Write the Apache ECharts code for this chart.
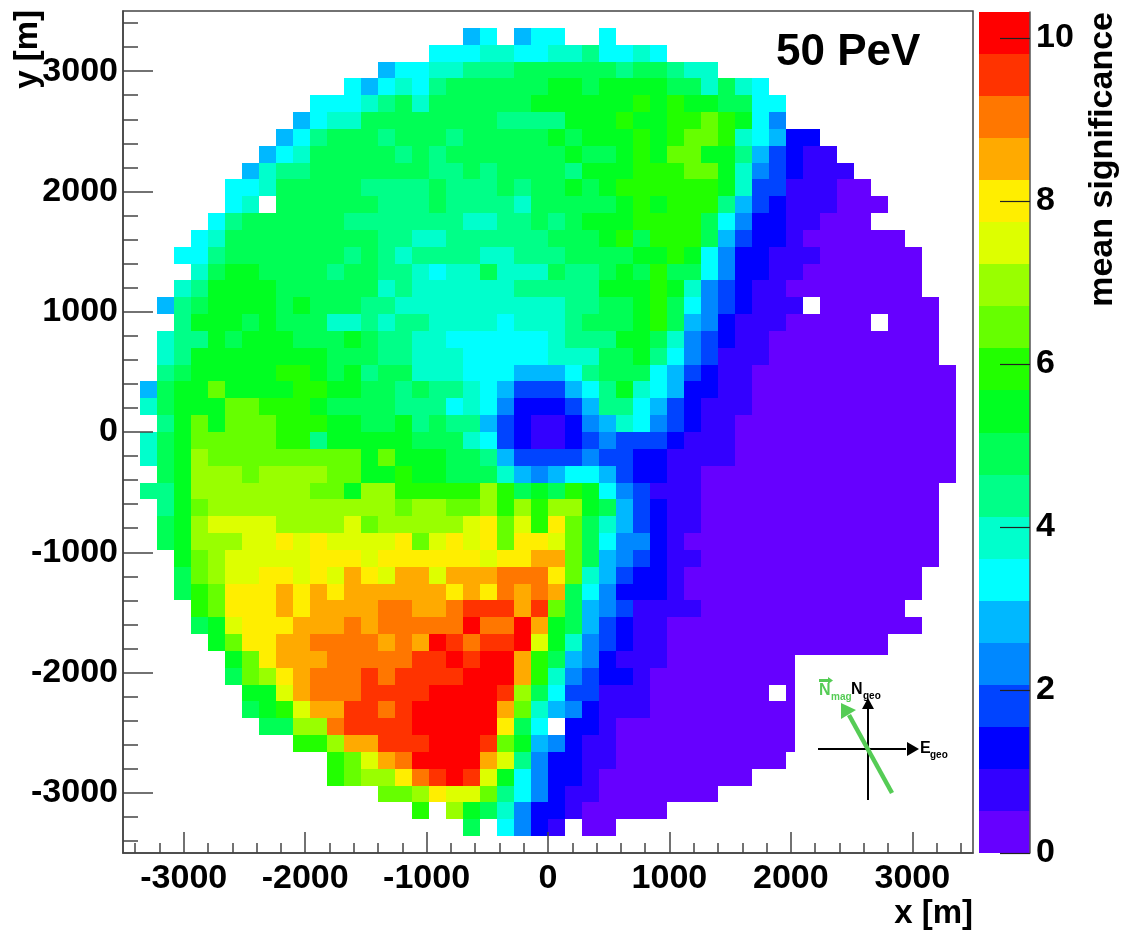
<!DOCTYPE html>
<html><head><meta charset="utf-8">
<style>html,body{margin:0;padding:0;background:#fff}#c{width:1125px;height:932px}</style>
<script src="https://cdn.jsdelivr.net/npm/echarts@6/dist/echarts.min.js"></script>
</head><body><div id="c"></div>
<script>
const _ = null;
// colour band index, per row (top to bottom), from the first filled column
const rowStarts=[20,18,15,13,11,10,9,8,7,6,6,5,4,3,4,3,2,3,2,2,2,1,1,2,1,1,2,1,2,2,2,3,3,3,4,4,5,6,6,7,7,8,10,12,12,15,17,20];
const r01=[5,6,_,5,6,6,_,_,6];
const r02=[6,6,6,7,7,6,6,7,7,8,6,6,7,6];
const r03=[5,6,6,7,7,8,8,8,9,9,9,9,9,9,8,9,9,8,7,7];
const r04=[6,5,6,7,6,8,9,9,9,9,9,9,10,10,9,10,10,10,10,9,9,7,9,7,6];
const r05=[6,6,6,7,8,9,7,9,9,9,9,9,9,10,10,10,10,10,10,11,10,11,10,10,9,9,6,6];
const r06=[5,6,7,7,9,9,9,9,9,9,9,9,8,8,8,8,10,10,10,11,10,10,11,11,12,11,10,6,4];
const r07=[5,6,8,9,9,9,8,9,9,9,8,9,9,9,9,9,10,9,10,10,10,11,10,11,12,12,11,7,6,5,2,2];
const r08=[5,6,7,9,9,9,9,9,8,9,8,9,9,9,9,9,9,9,10,9,9,10,11,10,12,12,10,10,8,5,3,2,1,1];
const r09=[5,7,8,8,9,9,9,9,9,9,9,8,8,9,8,9,9,9,9,8,10,10,10,11,11,11,12,12,10,7,4,3,2,1,1,1];
const r10=[6,6,7,9,9,9,9,9,8,8,8,8,9,8,8,8,9,8,9,9,10,9,10,11,11,11,11,11,11,10,7,3,3,1,1,1,0,0];
const r11=[6,7,_,9,9,9,9,9,9,8,8,8,9,8,8,8,8,7,9,9,9,9,9,10,11,10,11,11,11,8,5,3,2,1,1,1,0,0,0];
const r12=[6,8,9,9,9,9,9,9,8,8,8,8,8,8,8,7,7,8,8,9,8,9,10,10,10,11,11,11,11,9,6,4,2,2,1,1,0,0,0];
const r13=[6,7,9,9,9,9,9,9,9,9,9,8,8,7,7,8,8,8,8,8,8,9,9,9,10,11,9,11,11,11,9,5,3,2,2,1,0,0,0,0,0,0];
const r14=[6,6,8,9,9,9,9,9,9,9,8,9,8,7,8,8,8,8,7,7,8,8,8,9,9,9,9,10,10,11,10,6,4,2,2,1,1,1,0,0,0,0,0,0];
const r15=[7,9,10,10,9,9,9,9,8,9,9,8,8,7,6,7,7,9,7,7,7,9,8,8,9,10,9,11,9,9,6,4,2,2,1,1,0,0,0,0,0,0,0];
const r16=[7,8,10,10,10,10,9,9,9,9,9,9,7,8,7,7,7,7,7,7,8,8,8,8,8,10,10,10,11,10,7,4,3,2,1,1,0,0,0,0,0,0,0,0];
const r17=[5,8,9,10,10,10,10,9,10,9,9,9,8,8,7,7,7,7,7,7,7,7,7,7,8,8,9,9,10,11,9,6,4,3,2,1,1,1,_,0,0,0,0,0,0,0];
const r18=[8,10,10,10,9,10,9,9,9,7,7,8,7,8,8,7,7,7,7,6,7,7,7,8,9,9,9,10,11,9,5,4,2,1,1,1,0,0,0,0,0,_,0,0,0];
const r19=[7,8,8,10,9,10,10,10,9,9,9,10,9,8,8,7,7,6,6,6,6,6,6,7,8,8,8,10,10,9,7,4,3,2,1,1,0,0,0,0,0,0,0,0,0,0];
const r20=[7,8,10,10,10,10,10,10,10,10,9,9,9,8,8,7,7,7,6,6,6,6,6,7,7,7,9,9,10,8,6,4,3,1,1,1,0,0,0,0,0,0,0,0,0,0];
const r21=[8,9,10,10,10,10,10,11,11,10,9,10,8,9,9,7,7,7,6,6,6,5,5,5,6,8,9,9,9,6,5,3,2,1,1,0,0,0,0,0,0,0,0,0,0,0,0];
const r22=[5,9,10,10,12,10,10,10,10,11,11,10,10,9,9,8,9,8,8,7,6,5,3,3,3,5,6,8,10,7,6,5,2,2,1,1,0,0,0,0,0,0,0,0,0,0,0,0];
const r23=[7,9,10,10,10,12,12,11,11,11,10,9,9,9,9,8,8,8,6,7,6,4,2,2,2,3,5,8,8,6,5,3,2,1,1,1,0,0,0,0,0,0,0,0,0,0,0,0];
const r24=[8,10,12,10,12,12,12,11,11,11,10,10,9,9,10,8,9,8,8,5,3,2,1,1,2,4,5,7,6,4,3,2,1,1,0,0,0,0,0,0,0,0,0,0,0,0,0];
const r25=[7,9,10,12,12,12,12,12,11,11,8,10,10,10,10,10,9,9,9,7,6,3,2,1,1,2,3,4,3,3,3,2,1,1,1,0,0,0,0,0,0,0,0,0,0,0,0,0];
const r26=[7,9,10,13,12,12,12,12,12,12,12,12,12,10,12,10,10,10,9,9,8,5,3,3,3,3,4,3,3,2,2,1,1,1,1,0,0,0,0,0,0,0,0,0,0,0,0,0];
const r27=[9,10,13,13,13,12,13,13,13,13,12,12,10,10,11,10,10,9,9,9,7,5,4,5,6,6,5,3,2,2,1,1,0,0,0,0,0,0,0,0,0,0,0,0,0,0,0];
const r28=[8,8,10,13,13,13,13,13,13,13,12,12,10,13,13,11,11,11,11,11,13,11,9,10,9,11,10,6,4,3,1,1,1,0,0,0,0,0,0,0,0,0,0,0,0,0,0];
const r29=[8,10,12,13,13,13,13,13,13,13,13,13,13,13,12,13,13,12,12,13,11,13,11,13,13,10,9,5,3,2,1,1,0,0,0,0,0,0,0,0,0,0,0,0,0,0];
const r30=[9,10,13,14,14,14,14,13,13,13,13,14,12,13,13,13,13,13,14,15,12,14,11,15,12,9,7,5,3,2,1,1,0,0,0,0,0,0,0,0,0,0,0,0,0,0];
const r31=[9,10,13,13,13,14,14,15,14,15,14,14,14,14,15,12,14,15,14,15,12,15,15,14,12,9,6,4,4,2,1,0,0,0,0,0,0,0,0,0,0,0,0,0,0,0];
const r32=[10,12,13,14,14,14,14,14,15,15,15,14,15,15,15,15,15,15,14,15,15,16,16,12,9,5,4,3,2,1,1,0,0,0,0,0,0,0,0,0,0,0,0,0,0];
const r33=[9,12,13,14,14,15,15,14,15,14,16,15,14,16,16,14,16,16,16,17,17,17,15,12,7,5,3,2,2,1,0,0,0,0,0,0,0,0,0,0,0,0,0,0];
const r34=[9,11,12,15,15,15,16,15,16,15,16,16,16,16,16,16,15,16,15,17,16,17,16,9,6,4,2,2,2,1,0,0,0,0,0,0,0,0,0,0,0,0,0,0];
const r35=[11,12,15,15,15,16,15,16,16,16,16,17,17,16,16,17,18,18,18,16,18,12,9,5,4,3,1,1,1,1,0,0,0,0,0,0,0,0,0,0,0,0];
const r36=[9,10,14,15,15,15,16,16,16,17,16,17,17,17,17,17,19,17,17,19,16,10,9,5,3,2,1,1,0,0,0,0,0,0,0,0,0,0,0,0,0,0,0];
const r37=[10,12,15,15,16,16,17,17,17,17,16,17,16,19,18,17,18,18,19,14,10,7,4,3,2,1,1,0,0,0,0,0,0,0,0,0,0,0,0,0];
const r38=[10,12,15,16,16,16,17,17,17,17,17,18,18,19,18,19,19,16,11,9,5,4,2,1,1,1,0,0,0,0,0,0,0,0,0,0,0,0,0];
const r39=[9,12,13,15,16,17,17,17,18,17,18,18,18,18,19,19,19,16,11,7,4,3,2,2,1,0,0,0,0,0,0,0,0,0];
const r40=[10,10,14,16,17,17,17,18,18,18,18,19,19,19,19,18,13,9,6,3,3,1,1,1,0,0,0,0,0,0,0,_,0];
const r41=[9,10,11,14,16,16,18,18,17,18,19,19,19,19,19,16,12,7,5,4,2,1,1,1,0,0,0,0,0,0,0,0,0];
const r42=[9,9,13,13,17,18,18,18,18,19,19,19,19,19,15,9,6,_,2,2,1,0,0,0,0,0,0,0,0,0,0,0];
const r43=[11,11,13,16,16,18,18,18,19,19,19,18,12,10,5,4,2,1,1,0,0,0,0,0,0,0,0,0,0,0];
const r44=[11,12,14,16,17,19,19,19,19,16,14,8,4,2,2,1,1,0,0,0,0,0,0,0,0,0,0];
const r45=[11,12,13,13,15,17,18,19,18,14,10,6,4,2,2,1,0,0,0,0,0,0,0,0,0];
const r46=[12,12,13,15,14,14,12,8,6,4,2,1,1,0,0,0,0,0,0,0];
const r47=[11,_,13,10,9,7,4,2,2,1,0,0,0,0,0];
const r48=[9,_,6,4,2,1,_,0,0];
const rows=[r01,r02,r03,r04,r05,r06,r07,r08,r09,r10,r11,r12,r13,r14,r15,r16,r17,r18,r19,r20,r21,r22,r23,r24,r25,r26,r27,r28,r29,r30,r31,r32,r33,r34,r35,r36,r37,r38,r39,r40,r41,r42,r43,r44,r45,r46,r47,r48];

const bandColors=['#6600ff','#3300ff','#0000ff','#0044ff','#0088ff','#00b8ff','#00ffff','#00ffcc','#00ff88','#00ff55','#00ff22','#22ff00','#66ff00','#99ff00','#ddff00','#ffee00','#ffaa00','#ff7700','#ff3300','#ff0000'];
const bandWidth=0.516;
const binSize=140;
const axisMin=-3500, axisMax=3500;
const majorTicks=[-3000,-2000,-1000,0,1000,2000,3000];
const minorTicks=[-3400,-3200,-2800,-2600,-2400,-2200,-1800,-1600,-1400,-1200,-800,-600,-400,-200,200,400,600,800,1200,1400,1600,1800,2200,2400,2600,2800,3200,3400];
const barTicks=[0,2,4,6,8,10];

const cells=[];
rows.forEach((row,i)=>{
  row.forEach((lv,j)=>{
    if(lv===null) return;
    const col=rowStarts[i]+j, r=i+1;
    cells.push([axisMin+binSize*(col+0.5), axisMax-binSize*(r+0.5), (lv+0.5)*bandWidth]);
  });
});
const bands=bandColors.map((c,i)=>[i*bandWidth,(i+1)*bandWidth]);

const FONT='"Liberation Sans",Arial,sans-serif';
const dark='#444';
const lab={fontFamily:FONT,fontWeight:'bold',fontSize:34,color:'#000'};
const fmt=v=>String(v);
const noZero={show:true,onZero:false,lineStyle:{color:dark,width:1.5}};

function cellItem(params,api){
  const x=api.value(0),y=api.value(1),v=api.value(2);
  const a=api.coord([x-binSize/2,y+binSize/2]), b=api.coord([x+binSize/2,y-binSize/2]);
  const x0=Math.round(a[0]),y0=Math.round(a[1]),x1=Math.round(b[0]),y1=Math.round(b[1]);
  return {type:'rect',shape:{x:x0,y:y0,width:x1-x0,height:y1-y0},
    style:{fill:bandColors[Math.min(bandColors.length-1,Math.floor(v/bandWidth))]}};
}
function bandItem(params,api){
  const a=api.coord([0,api.value(1)]), b=api.coord([1,api.value(0)]);
  return {type:'rect',shape:{x:a[0],y:Math.round(a[1]),width:b[0]-a[0],height:Math.round(b[1])-Math.round(a[1])},
    style:{fill:bandColors[params.dataIndex]}};
}
function line(x1,y1,x2,y2,color,w){return {type:'line',z:50,shape:{x1,y1,x2,y2},style:{stroke:color,lineWidth:w}};}
function tri(points,color){return {type:'polygon',z:50,shape:{points},style:{fill:color}};}
function txt(x,y,text,size,color,extra){return Object.assign({type:'text',z:51,x,y,style:{text,fill:color,font:'bold '+size+'px '+FONT,textVerticalAlign:'top'}},extra||{});}

const chart=echarts.init(document.getElementById('c'),null,{renderer:'canvas'});
chart.setOption({
  animation:false,backgroundColor:'#fff',
  grid:[
    {left:123,top:11,width:850,height:842,show:true,borderColor:dark,borderWidth:1.5,backgroundColor:'#fff'},
    {left:979,top:12,width:51,height:841}
  ],
  xAxis:[
    {type:'value',gridIndex:0,min:axisMin,max:axisMax,position:'bottom',z:5,splitLine:{show:false},
     axisLine:noZero,
     axisTick:{show:true,inside:true,length:21,customValues:majorTicks,lineStyle:{color:dark,width:1.5}},
     axisLabel:{customValues:majorTicks,formatter:fmt,margin:9,hideOverlap:false,...lab}},
    {type:'value',gridIndex:0,min:axisMin,max:axisMax,position:'bottom',z:5,splitLine:{show:false},
     axisLine:{show:false,onZero:false},axisLabel:{show:false},
     axisTick:{show:true,inside:true,length:10,customValues:minorTicks,lineStyle:{color:dark,width:1.5}}},
    {type:'value',gridIndex:1,min:0,max:1,show:false,axisLine:{onZero:false}}
  ],
  yAxis:[
    {type:'value',gridIndex:0,min:axisMin,max:axisMax,position:'left',z:5,splitLine:{show:false},
     axisLine:noZero,
     axisTick:{show:true,inside:true,length:30,customValues:majorTicks,lineStyle:{color:dark,width:1.5}},
     axisLabel:{customValues:majorTicks,formatter:fmt,margin:5,hideOverlap:false,...lab}},
    {type:'value',gridIndex:0,min:axisMin,max:axisMax,position:'left',z:5,splitLine:{show:false},
     axisLine:{show:false,onZero:false},axisLabel:{show:false},
     axisTick:{show:true,inside:true,length:15,customValues:minorTicks,lineStyle:{color:dark,width:1.5}}},
    {type:'value',gridIndex:1,min:0,max:bandWidth*bandColors.length,position:'right',z:5,splitLine:{show:false},
     axisLine:{show:true,onZero:false,lineStyle:{color:'#555',width:1.5}},
     axisTick:{show:true,inside:true,length:30,customValues:barTicks,lineStyle:{color:'#222',width:1.2}},
     axisLabel:{customValues:barTicks,formatter:fmt,margin:6,hideOverlap:false,...lab}}
  ],
  series:[
    {type:'custom',name:'mean significance',xAxisIndex:0,yAxisIndex:0,coordinateSystem:'cartesian2d',
     encode:{x:0,y:1},data:cells,renderItem:cellItem,silent:true,clip:true,z:2},
    {type:'custom',name:'colour scale',xAxisIndex:2,yAxisIndex:2,coordinateSystem:'cartesian2d',
     data:bands,renderItem:bandItem,silent:true,z:2}
  ],
  graphic:[
    {type:'rect',z:49,shape:{x:795,y:655,width:100,height:97},style:{fill:'#fff'}},
    txt(776,31,'50 PeV',44,'#000'),
    txt(973,897,'x [m]',33,'#000',{style:{text:'x [m]',fill:'#000',font:'bold 33px '+FONT,textAlign:'right',textVerticalAlign:'top'}}),
    {type:'text',z:51,x:11,y:10,rotation:Math.PI/2*1,originX:0,originY:0,
     style:{text:'y [m]',fill:'#000',font:'bold 33px '+FONT,textAlign:'right',textVerticalAlign:'top'}},
    {type:'text',z:51,x:1086,y:12,rotation:Math.PI/2,originX:0,originY:0,
     style:{text:'mean significance',fill:'#000',font:'bold 34px '+FONT,textAlign:'right',textVerticalAlign:'top'}},
    line(818,749,906,749,'#000',2),
    tri([[907,742],[919,749],[907,756]],'#000'),
    line(868,800,868,709,'#000',2),
    tri([[862,709],[868,698],[874,709]],'#000'),
    line(892,793,849,715,'#55cc55',4.5),
    tri([[841,703],[841,719],[856,710]],'#55cc55'),
    line(819,680.5,829,680.5,'#55cc55',3),
    tri([[828,677],[833,680.5],[828,684]],'#55cc55'),
    txt(819,683,'N',16,'#55cc55'),
    txt(831,692,'mag',10,'#55cc55'),
    txt(851,682,'N',16,'#000'),
    txt(863,691,'geo',10,'#000'),
    txt(920,741,'E',16,'#000'),
    txt(930,750,'geo',10,'#000')
  ]
});
</script></body></html>
